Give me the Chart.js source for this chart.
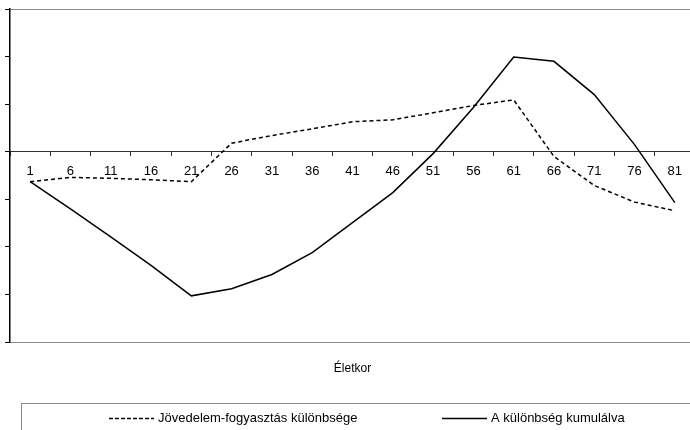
<!DOCTYPE html>
<html>
<head>
<meta charset="utf-8">
<script src="https://cdn.jsdelivr.net/npm/chart.js@4/dist/chart.umd.min.js"></script>
<style>
  html, body { margin: 0; padding: 0; background: #fff; overflow: hidden; }
  canvas { display: block; }
</style>
</head>
<body>
<canvas id="lifeCycle" width="695" height="430"></canvas>
<script>
const ageLabels = ['1', '6', '11', '16', '21', '26', '31', '36', '41', '46', '51', '56', '61', '66', '71', '76', '81'];
const incomeGap = [-0.63, -0.54, -0.56, -0.59, -0.63, 0.18, 0.34, 0.48, 0.63, 0.67, 0.82, 0.97, 1.09, -0.10, -0.71, -1.06, -1.24];
const cumulativeGap = [-0.63, -1.20, -1.79, -2.39, -3.03, -2.88, -2.58, -2.12, -1.49, -0.86, -0.04, 0.93, 1.99, 1.90, 1.20, 0.15, -1.07];
const seriesNames = ['Jövedelem-fogyasztás különbsége', 'A különbség kumulálva'];
const yMin = -4, yMax = 3, yStep = 1;

const FONT = 'Liberation Sans, Arial, sans-serif';

// legend in a framed strip below the axis title
const legendStrip = {
  id: 'legendStrip',
  afterDraw(chart) {
    const ctx = chart.ctx;
    ctx.save();
    ctx.strokeStyle = '#8a8a8a';
    ctx.lineWidth = 1;
    ctx.strokeRect(21.5, 403.5, 720, 60);

    const starts = [109, 442];
    const sampleWidth = 45;
    const y = 418.5;
    chart.data.datasets.forEach((ds, i) => {
      ctx.strokeStyle = ds.borderColor;
      ctx.lineWidth = 1.5;
      ctx.setLineDash(ds.borderDash ? [4, 2] : []);
      ctx.beginPath();
      ctx.moveTo(starts[i], y);
      ctx.lineTo(starts[i] + sampleWidth, y);
      ctx.stroke();
      ctx.setLineDash([]);
      ctx.fillStyle = '#000';
      ctx.font = '13px ' + FONT;
      ctx.textBaseline = 'middle';
      ctx.fillText(ds.label, starts[i] + sampleWidth + 4, y);
    });
    ctx.restore();
  }
};

const ctx = document.getElementById('lifeCycle').getContext('2d');
new Chart(ctx, {
  type: 'line',
  data: {
    labels: ageLabels,
    datasets: [{
      label: seriesNames[0],
      data: incomeGap,
      borderColor: '#000',
      borderWidth: 1.5,
      borderDash: [4, 3],
      pointRadius: 0,
      tension: 0,
      xAxisID: 'x',
      yAxisID: 'y'
    }, {
      label: seriesNames[1],
      data: cumulativeGap,
      borderColor: '#000',
      borderWidth: 1.5,
      pointRadius: 0,
      tension: 0,
      xAxisID: 'x',
      yAxisID: 'y'
    }]
  },
  options: {
    responsive: false,
    animation: false,
    layout: { padding: { left: 5, top: 1, right: 0, bottom: 54.6 } },
    plugins: {
      legend: { display: false },
      tooltip: { enabled: false }
    },
    scales: {
      x: {
        type: 'category',
        position: { y: 0 },
        offset: true,
        grid: { offset: true, drawOnChartArea: false, tickLength: 4, color: '#333' },
        border: { color: '#333', width: 1 },
        ticks: { color: '#000', font: { family: FONT, size: 13 }, padding: 8, maxRotation: 0, autoSkip: false }
      },
      xBottom: {
        type: 'category',
        position: 'bottom',
        labels: ageLabels,
        offset: true,
        grid: { display: false },
        ticks: { display: false },
        border: { color: '#8a8a8a', width: 1 },
        title: {
          display: true,
          text: 'Életkor',
          color: '#000',
          font: { family: FONT, size: 12 },
          padding: { top: 11, bottom: 0 }
        }
      },
      xTop: {
        type: 'category',
        position: 'top',
        labels: ageLabels,
        grid: { display: false },
        ticks: { display: false },
        border: { color: '#8a8a8a', width: 1 }
      },
      y: {
        min: yMin,
        max: yMax,
        ticks: { stepSize: yStep, display: false },
        grid: { drawOnChartArea: false, tickLength: 5, color: '#000' },
        border: { color: '#000', width: 1.5 }
      }
    }
  },
  plugins: [legendStrip]
});
</script>
</body>
</html>
